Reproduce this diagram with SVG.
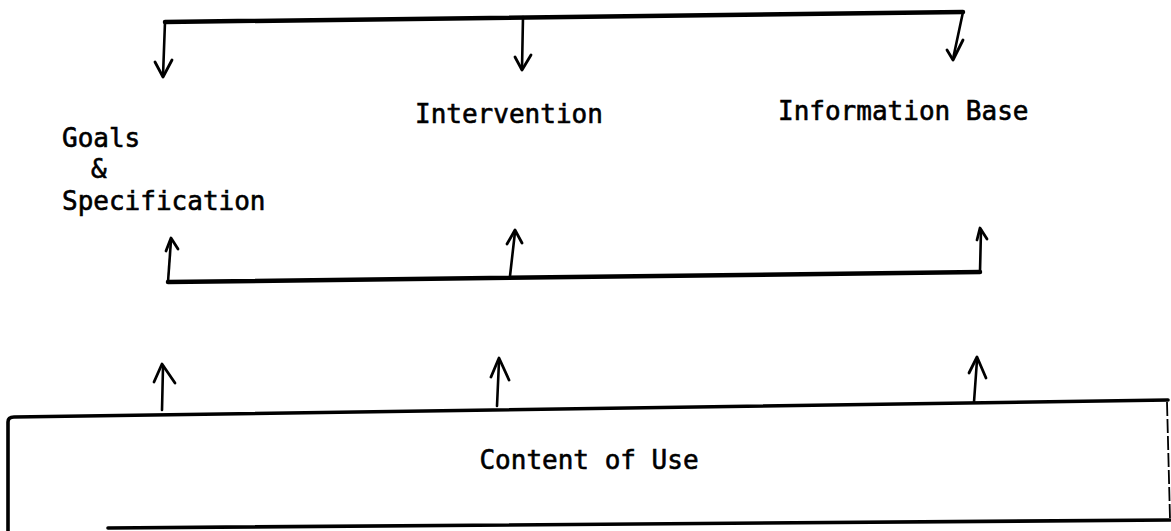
<svg xmlns="http://www.w3.org/2000/svg" width="1171" height="531" viewBox="0 0 1171 531">
<style>
.bar{fill:none;stroke:#000;stroke-width:4.5;stroke-linecap:round;stroke-linejoin:round}
.shaft{fill:none;stroke:#000;stroke-width:2.6;stroke-linecap:round;stroke-linejoin:round}
.head{fill:none;stroke:#000;stroke-width:2.8;stroke-linecap:round;stroke-linejoin:round}
.lbl{font-family:"DejaVu Sans Mono","Liberation Mono",monospace;font-size:26px;fill:#000;stroke:#000;stroke-width:0.6}
.box{fill:none;stroke:#000;stroke-width:3.6;stroke-linecap:round;stroke-linejoin:round}
.thin{fill:none;stroke:#000;stroke-width:1.8;stroke-dasharray:14 3}
</style>
<rect width="1171" height="531" fill="#fff"/>
<g id="connectors">
  <!-- top distribution bar -->
  <path class="bar" d="M165,22 L963,12"/>
  <path class="shaft" d="M165,22 L163,76"/>
  <path class="head" d="M155,62 L163,77 L172,60"/>
  <path class="shaft" d="M523,17 L522,69"/>
  <path class="head" d="M515,57 L522,70 L531,55"/>
  <path class="shaft" d="M963,12 L953,59"/>
  <path class="head" d="M947,50 L953,60 L963,40"/>
  <!-- middle collecting bar -->
  <path class="bar" d="M168,282 L980,272"/>
  <path class="shaft" d="M168,282 L171,240"/>
  <path class="head" d="M166,251 L171,238 L178,249"/>
  <path class="shaft" d="M510,276 L515,232"/>
  <path class="head" d="M507,244 L515,230 L522,243"/>
  <path class="shaft" d="M980,272 L981,230"/>
  <path class="head" d="M977,240 L980,228 L987,239"/>
  <!-- arrows from content box -->
  <path class="shaft" d="M162,410 L163,367"/>
  <path class="head" d="M154,382 L162,364 L175,383"/>
  <path class="shaft" d="M497,406 L499,361"/>
  <path class="head" d="M491,377 L499,358 L509,380"/>
  <path class="shaft" d="M974,402 L977,360"/>
  <path class="head" d="M969,373 L977,357 L986,378"/>
</g>
<g id="goals">
  <text class="lbl" x="62" y="147">Goals</text>
  <text class="lbl" x="91" y="178">&amp;</text>
  <text class="lbl" x="62" y="210">Specification</text>
</g>
<g id="intervention">
  <text class="lbl" x="415" y="123">Intervention</text>
</g>
<g id="information-base">
  <text class="lbl" x="778" y="120">Information Base</text>
</g>
<g id="content-of-use">
  <path class="box" d="M8,531 L8,422 Q8,417 14,417 L1168,400"/>
  <path class="thin" d="M1167,402 L1170,519"/>
  <path class="box" d="M108,528 L1170,520"/>
  <text class="lbl" x="589" y="469" text-anchor="middle">Content of Use</text>
</g>
</svg>
